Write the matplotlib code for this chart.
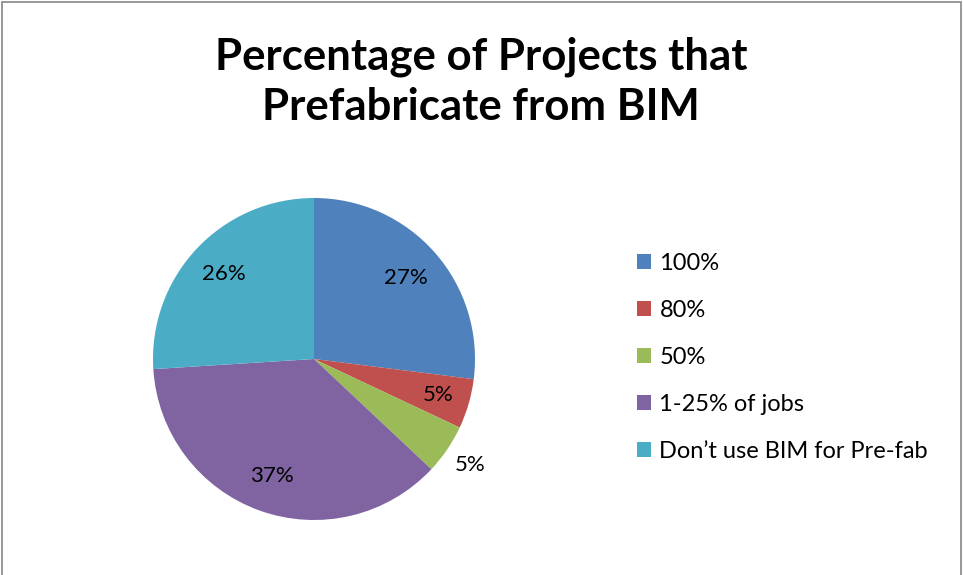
import matplotlib
matplotlib.use("Agg")
import matplotlib.pyplot as plt
import numpy as np
from matplotlib.patches import Rectangle

categories = ["100%", "80%", "50%", "1-25% of jobs", "Don\u2019t use BIM for Pre-fab"]
shares = [27, 5, 5, 37, 26]
colors = ["#4F81BD", "#C0504D", "#9BBB59", "#8064A2", "#4BACC6"]
title = "Percentage of Projects that\nPrefabricate from BIM"

W, H = 963, 575
fig = plt.figure(figsize=(W / 100, H / 100), dpi=100)
fig.patch.set_facecolor("white")

# outer chart frame
fig.add_artist(Rectangle((1.5 / W, -0.01), (W - 4) / W, 1 - 1.5 / H + 0.01,
                         transform=fig.transFigure, fill=False,
                         edgecolor="#868686", linewidth=1.2))

font = "Lato"

# pie area: centre (314, 359) px, radius 161 px
cx, cy, r = 314, 359, 161
ax = fig.add_axes([(cx - r) / W, (H - cy - r) / H, 2 * r / W, 2 * r / H])
wedges, _ = ax.pie(shares, colors=colors, startangle=90, counterclock=False,
                   radius=1.0, wedgeprops=dict(linewidth=0))
ax.set_xlim(-1, 1)
ax.set_ylim(-1, 1)
ax.set_aspect("equal")
ax.axis("off")

# percentage labels
total = sum(shares)
start = 90.0
label_r = [0.76, 0.80, 1.17, 0.77, 0.77]
for v, lr in zip(shares, label_r):
    sweep = 360.0 * v / total
    mid = np.deg2rad(start - sweep / 2)
    ax.text(lr * np.cos(mid), lr * np.sin(mid), f"{v}%", ha="center", va="center",
            fontsize=16, family=font, color="black", clip_on=False)
    start -= sweep

fig.text(481 / W, 1 - 82 / H, title, ha="center", va="center",
         fontsize=31.5, fontweight="bold", family=font, linespacing=1.3)

leg = fig.legend(wedges, categories, loc="upper left",
                 bbox_to_anchor=(637 / W, 1 - 253 / H), frameon=False,
                 prop=dict(family=font, size=17), handlelength=0.6,
                 handleheight=0.6, handletextpad=0.35, labelspacing=1.1,
                 borderaxespad=0, borderpad=0)

fig.savefig("out.png", dpi=100, facecolor="white")
